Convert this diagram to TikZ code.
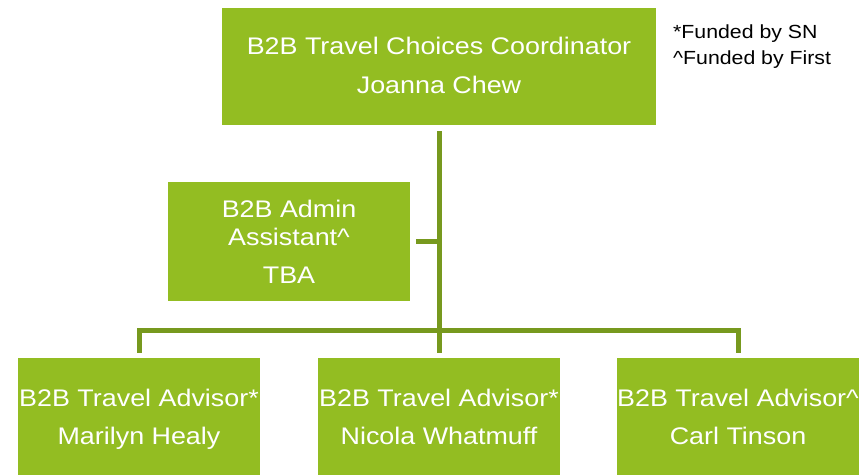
\documentclass[tikz,border=0pt]{standalone}
\usepackage{fontspec}
\setmainfont{Liberation Sans}[FakeStretch=1.12]
\definecolor{boxgreen}{HTML}{93BD22}
\definecolor{linegreen}{HTML}{77991E}
\begin{document}
\begin{tikzpicture}[x=1pt,y=-1pt,
  box/.style={draw=none,fill=boxgreen,minimum width=#1,minimum height=117pt,inner sep=0pt},
  box/.default=242pt,
  lbl/.style={anchor=base,inner sep=0pt,text=white,font=\fontsize{24}{28}\selectfont},
  legend/.style={anchor=base west,inner sep=0pt,text=black,font=\fontsize{19}{22}\selectfont},
  conn/.style={draw=linegreen,line width=5pt,line cap=butt,line join=miter}]
\useasboundingbox (0,0) rectangle (861,474);
% boxes
\node[box=434pt] (top) at (439,66.5) {};
\node[box,minimum height=119pt] (admin) at (289,241.5) {};
\node[box] (b1) at (139,416.5) {};
\node[box] (b2) at (439,416.5) {};
\node[box] (b3) at (738,416.5) {};
% texts
\node[lbl] (t1) at (439,54) {B2B Travel Choices Coordinator};
\node[lbl] (t2) at (439,93) {Joanna Chew};
\node[lbl] (a1) at (289,217) {B2B Admin};
\node[lbl] (a2) at (289,245) {Assistant\^{}};
\node[lbl] (a3) at (289,283) {TBA};
\node[lbl] (p1) at (139,406) {B2B Travel Advisor*};
\node[lbl] (n1) at (139,444) {Marilyn Healy};
\node[lbl] (p2) at (439,406) {B2B Travel Advisor*};
\node[lbl] (n2) at (439,444) {Nicola Whatmuff};
\node[lbl] (p3) at (738,406) {B2B Travel Advisor\^{}};
\node[lbl] (n3) at (738,444) {Carl Tinson};
\node[legend] (l1) at (673,38) {*Funded by SN};
\node[legend] (l2) at (673,64) {\^{}Funded by First};
% connectors
\coordinate (jbar) at (439,330.5);
\coordinate (jadm) at (439,241.5);
\draw[conn] ([yshift=-6pt]top.south) -- (jbar);
\draw[conn] ([xshift=6pt]admin.east) -- (jadm);
\draw[conn] ([yshift=5pt]b1.north) |- (jbar) -| ([yshift=5pt]b3.north);
\draw[conn] (jbar) -- ([yshift=5pt]b2.north);
\end{tikzpicture}
\end{document}
